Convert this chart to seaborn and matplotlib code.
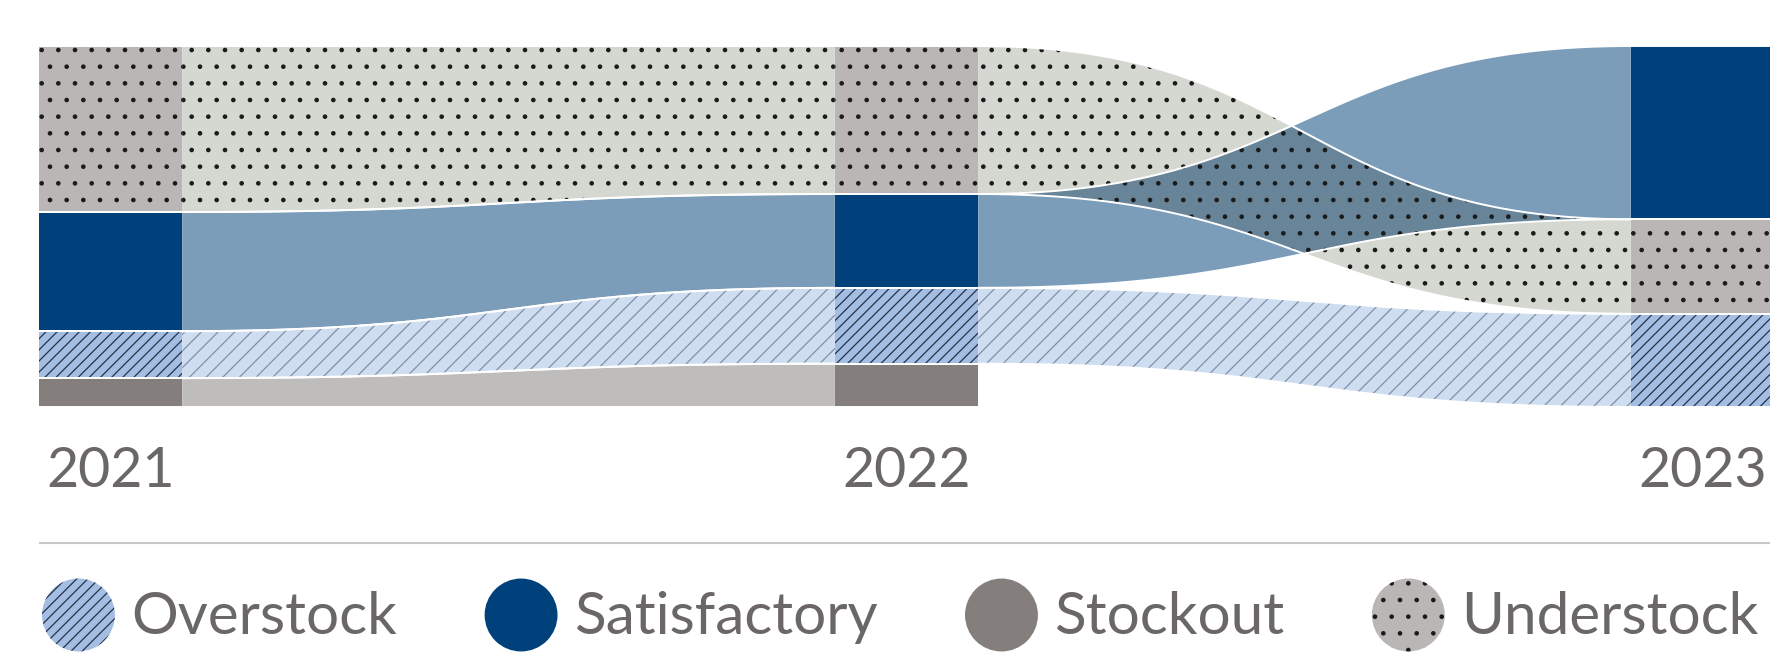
import numpy as np
import matplotlib
matplotlib.use("Agg")
import matplotlib.pyplot as plt
import seaborn as sns
from matplotlib.patches import Patch, Circle
from matplotlib.legend_handler import HandlerPatch
from matplotlib.colors import to_rgb


# stock status share (%) per year, ribbon chart style

years = ["2021", "2022", "2023"]
categories = ["Overstock", "Satisfactory", "Stockout", "Understock"]

overstock = [13, 21, 25.8]
satisfactory = [33, 26, 48]
stockout = [8, 12, 0]
understock = [46, 41, 26.2]

node_colors = ["#a3bee2", "#00417b", "#847f7c", "#bab6b5"]
ribbon_colors = ["#cfddf0", "#7b9dba", "#bebdbb", "#d5d7d1"]
node_hatches = ["///", "", "", "."]
ribbon_hatches = ["//", "", "", "."]
node_hatch_colors = ["#27324a", "#00417b", "#847f7c", "#1a1a1a"]
ribbon_hatch_colors = ["#7f90aa", "#7b9dba", "#bebdbb", "#1a1a1a"]

text_color = "#6b6767"


def stack_positions(values):
    # nodes sorted by value, largest on top
    order = sorted([k for k in range(len(values)) if values[k] > 0], key=lambda k: -values[k])
    pos = {}
    y = 0.0
    for k in order:
        pos[k] = (y, y + values[k])
        y += values[k]
    return pos


def smooth(y0, y1, t):
    return y0 + (y1 - y0) * (3 * t**2 - 2 * t**3)


def initiate():
    sns.set_theme(style="white")
    plt.rcParams["font.family"] = ["Lato", "DejaVu Sans"]
    plt.rcParams["hatch.linewidth"] = 0.9

    data = np.array([overstock, satisfactory, stockout, understock])
    n_years = len(years)

    fig = plt.figure(figsize=(17.7, 6.56), dpi=100)
    ax = fig.add_axes([0, 0, 1, 1])

    # axis scaling (px per unit)
    px_x = 796.0
    px_y = 3.61
    ax.set_xlim(-110.5 / px_x, (1770 - 110.5) / px_x)
    ax.set_ylim((656 - 46) / px_y, -46 / px_y)
    ax.axis("off")

    w = 0.09
    positions = [stack_positions(data[:, i]) for i in range(n_years)]

    t = np.linspace(0, 1, 300)
    for i in range(n_years - 1):
        x0 = i + w
        x1 = i + 1 - w
        xm = (x0 + x1) / 2
        xs = (1 - t)**3 * x0 + 3 * (1 - t)**2 * t * xm + 3 * (1 - t) * t**2 * xm + t**3 * x1
        edges = {}
        for k in range(len(categories)):
            if k in positions[i] and k in positions[i + 1]:
                a0, b0 = positions[i][k]
                a1, b1 = positions[i + 1][k]
                top = smooth(a0, a1, t)
                bot = smooth(b0, b1, t)
                edges[k] = (top, bot)
                ax.fill_between(xs, top, bot, facecolor=ribbon_colors[k],
                                hatch=ribbon_hatches[k], edgecolor=ribbon_hatch_colors[k],
                                linewidth=0, zorder=1)
        # crossing ribbons, multiply the two colours
        keys = list(edges)
        for a in range(len(keys)):
            for b in range(a + 1, len(keys)):
                ka, kb = keys[a], keys[b]
                lo = np.maximum(edges[ka][0], edges[kb][0])
                hi = np.minimum(edges[ka][1], edges[kb][1])
                mask = hi > lo + 1e-6
                if mask.sum() < 2:
                    continue
                col = np.array(to_rgb(ribbon_colors[ka])) * np.array(to_rgb(ribbon_colors[kb]))
                hatch = ribbon_hatches[ka] + ribbon_hatches[kb]
                hcol = ribbon_hatch_colors[kb] if ribbon_hatches[kb] else ribbon_hatch_colors[ka]
                ax.fill_between(xs, lo, hi, where=mask, interpolate=True, facecolor=col,
                                hatch=hatch, edgecolor=hcol, linewidth=0, zorder=2)
        for k in edges:
            ax.plot(xs, edges[k][0], color="white", lw=1.4, zorder=4)
            ax.plot(xs, edges[k][1], color="white", lw=1.4, zorder=4)

    for i in range(n_years):
        for k, (a, b) in positions[i].items():
            ax.bar(i, b - a, bottom=a, width=2 * w, color=node_colors[k],
                   hatch=node_hatches[k], edgecolor=node_hatch_colors[k],
                   linewidth=0, zorder=3)
            ax.hlines([a, b], i - w, i + w, color="white", lw=1.4, zorder=4)
        ax.text(i, (487 - 46) / px_y, years[i], ha="center", va="baseline",
                fontsize=40, color=text_color)

    # separator
    ax.hlines((543 - 46) / px_y, -w, ax.get_xlim()[1], color="#c8c8c8", lw=1.5)

    handles = [Patch(facecolor=node_colors[k], hatch=node_hatches[k],
                     edgecolor=node_hatch_colors[k], linewidth=0)
               for k in range(len(categories))]

    def make_circle(legend, orig_handle, xdescent, ydescent, width, height, fontsize):
        r = min(width, height) / 2
        return Circle((width / 2 - xdescent, height / 2 - ydescent), r)

    fig.legend(handles, categories, loc="center left",
               bbox_to_anchor=(42 / 1770, (656 - 615) / 656), ncol=4, frameon=False,
               fontsize=42, labelcolor=text_color, handlelength=1.25, handleheight=1.55,
               handletextpad=0.28, columnspacing=1.5, borderpad=0, borderaxespad=0,
               handler_map={Patch: HandlerPatch(patch_func=make_circle)})

    fig.savefig("out.png", dpi=100)


if __name__ == "__main__":
    initiate()
